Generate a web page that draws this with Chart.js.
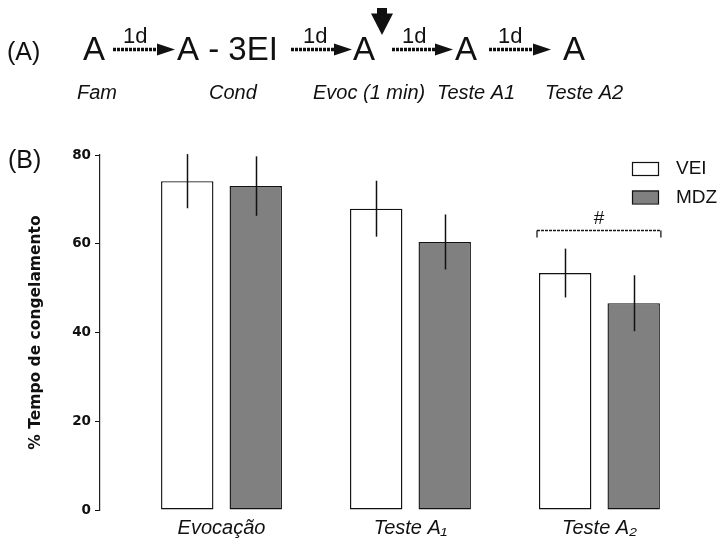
<!DOCTYPE html>
<html>
<head>
<meta charset="utf-8">
<script src="https://cdn.jsdelivr.net/npm/chart.js@4/dist/chart.umd.min.js"></script>
<style>
  html, body { margin: 0; padding: 0; background: #fff; }
  #wrap { position: relative; width: 720px; height: 545px; }
  canvas { display: block; }
</style>
</head>
<body>
<div id="wrap"><canvas id="c" width="720" height="545"></canvas></div>
<script>
// Freezing time (%) per session, mean and SEM for each treatment
const groups = ['Evocação', 'Teste A\u2081', 'Teste A\u2082'];
const veiMean = [74.1, 67.9, 53.4];
const veiSem  = [6.1, 6.3, 5.5];
const mdzMean = [73.0, 60.4, 46.6];
const mdzSem  = [6.7, 6.2, 6.3];
const yTicks  = [0, 20, 40, 60, 80];
const seriesNames = ['VEI', 'MDZ'];

// Significance bracket over the last session
const bracketGroup = 2;
const bracketLevel = 63;
const bracketMark = '#';

// Experimental timeline shown above the graph
const stepLabels = ['Fam', 'Cond', 'Evoc (1 min)', 'Teste A1', 'Teste A2'];

const SANS = '"Liberation Sans", Arial, sans-serif';
const BOLD_AXIS = '"DejaVu Sans", "Liberation Sans", sans-serif';

const toPoints = (arr) => arr.map((v, i) => ({ x: i + 1, y: v }));

// error bars: vertical line through each bar top, +/- SEM
const errorBars = {
  id: 'errorBars',
  afterDatasetsDraw(chart) {
    const { ctx, scales: { y } } = chart;
    ctx.save();
    ctx.strokeStyle = '#111';
    ctx.lineWidth = 1.5;
    chart.data.datasets.forEach((ds, di) => {
      const meta = chart.getDatasetMeta(di);
      meta.data.forEach((bar, i) => {
        const m = ds.data[i].y, s = ds.sem[i];
        const x = Math.round(bar.x) + 0.5;
        ctx.beginPath();
        ctx.moveTo(x, y.getPixelForValue(m + s));
        ctx.lineTo(x, y.getPixelForValue(m - s));
        ctx.stroke();
      });
    });
    ctx.restore();
  }
};

// bracket with '#' spanning both bars of one session
const bracket = {
  id: 'bracket',
  afterDatasetsDraw(chart) {
    const { ctx, scales: { y } } = chart;
    const a = chart.getDatasetMeta(0).data[bracketGroup];
    const b = chart.getDatasetMeta(1).data[bracketGroup];
    const x0 = a.x - a.width / 2 - 2;
    const x1 = b.x + b.width / 2 + 1;
    const yl = Math.round(y.getPixelForValue(bracketLevel)) + 0.5;
    const yd = y.getPixelForValue(bracketLevel - 1.6);
    ctx.save();
    ctx.strokeStyle = '#1a1a1a';
    ctx.lineWidth = 1.3;
    ctx.setLineDash([3, 1]);
    ctx.beginPath();
    ctx.moveTo(x0, yl); ctx.lineTo(x1, yl);
    ctx.stroke();
    ctx.setLineDash([]);
    ctx.beginPath();
    ctx.moveTo(x0, yl); ctx.lineTo(x0, yd);
    ctx.moveTo(x1, yl); ctx.lineTo(x1, yd);
    ctx.stroke();
    ctx.fillStyle = '#111';
    ctx.font = '19px ' + SANS;
    ctx.textAlign = 'center';
    ctx.textBaseline = 'alphabetic';
    ctx.fillText(bracketMark, (x0 + x1) / 2, yl - 7);
    ctx.restore();
  }
};

// legend boxes at the upper right
const boxLegend = {
  id: 'boxLegend',
  afterDraw(chart) {
    const { ctx } = chart;
    ctx.save();
    ctx.font = '19px ' + SANS;
    ctx.textBaseline = 'middle';
    ctx.textAlign = 'left';
    chart.data.datasets.forEach((ds, i) => {
      const top = 162 + i * 28.5;
      ctx.fillStyle = ds.backgroundColor;
      ctx.fillRect(632, top, 27, 13);
      ctx.strokeStyle = '#111';
      ctx.lineWidth = 1.2;
      ctx.strokeRect(632.5, top + 0.5, 26, 13);
      ctx.fillStyle = '#111';
      ctx.fillText(ds.label, 676, top + 7);
    });
    ctx.restore();
  }
};

// panel letters and the timeline schematic
const schematic = {
  id: 'schematic',
  afterDraw(chart) {
    const { ctx } = chart;
    ctx.save();
    ctx.fillStyle = '#111';
    ctx.textBaseline = 'alphabetic';
    ctx.textAlign = 'left';

    ctx.font = '25px ' + SANS;
    ctx.fillText('(A)', 7, 60);
    ctx.fillText('(B)', 8, 168);

    ctx.font = '33px ' + SANS;
    ctx.fillText('A', 83, 60);
    ctx.fillText('A - 3EI', 177, 60);
    ctx.fillText('A', 353, 60);
    ctx.fillText('A', 455, 60);
    ctx.fillText('A', 563, 60);

    const arrows = [[113, 175, 123], [291, 352, 303], [392, 453, 402], [489, 551, 498]];
    arrows.forEach(([s, e, tx]) => {
      ctx.strokeStyle = '#111';
      ctx.lineWidth = 3.5;
      ctx.setLineDash([3, 1]);
      ctx.beginPath();
      ctx.moveTo(s, 49.5);
      ctx.lineTo(e - 17, 49.5);
      ctx.stroke();
      ctx.setLineDash([]);
      ctx.beginPath();
      ctx.moveTo(e - 18, 43.5);
      ctx.lineTo(e, 49.5);
      ctx.lineTo(e - 18, 55.5);
      ctx.closePath();
      ctx.fill();
      ctx.font = '22px ' + SANS;
      ctx.fillText('1d', tx, 43);
    });

    // down arrow marking the retrieval session
    ctx.fillRect(377, 8, 10, 6);
    ctx.beginPath();
    ctx.moveTo(371, 13.5);
    ctx.lineTo(393, 13.5);
    ctx.lineTo(382, 35);
    ctx.closePath();
    ctx.fill();

    ctx.font = 'italic 20px ' + SANS;
    const stepX = [77, 209, 313, 437, 545];
    stepLabels.forEach((t, i) => ctx.fillText(t, stepX[i], 99));
    ctx.restore();
  }
};

new Chart(document.getElementById('c'), {
  type: 'bar',
  data: {
    datasets: [
      {
        label: seriesNames[0],
        data: toPoints(veiMean),
        sem: veiSem,
        backgroundColor: '#ffffff',
        borderColor: '#111111',
        borderWidth: 1.4,
        borderSkipped: false
      },
      {
        label: seriesNames[1],
        data: toPoints(mdzMean),
        sem: mdzSem,
        backgroundColor: '#808080',
        borderColor: '#111111',
        borderWidth: 1.4,
        borderSkipped: false
      }
    ]
  },
  options: {
    responsive: false,
    devicePixelRatio: 1,
    animation: false,
    categoryPercentage: 0.725,
    barPercentage: 0.765,
    layout: { padding: { top: 155, left: 0, right: 0, bottom: 0 } },
    plugins: {
      legend: { display: false },
      title: { display: false },
      tooltip: { enabled: false }
    },
    scales: {
      x: {
        type: 'linear',
        offset: false,
        min: 0.357,
        max: 3.638,
        afterFit: (s) => { s.height = 35; },
        afterBuildTicks: (s) => { s.ticks = groups.map((g, i) => ({ value: i + 1 })); },
        grid: { display: false, drawTicks: false, offset: false },
        border: { display: false },
        ticks: {
          autoSkip: false,
          maxRotation: 0,
          padding: 6,
          color: '#111',
          font: { family: SANS, size: 20, style: 'italic' },
          callback: (v, i) => groups[i]
        }
      },
      y: {
        min: 0,
        max: 80,
        afterFit: (s) => { s.width = 100; },
        afterBuildTicks: (s) => { s.ticks = yTicks.map(v => ({ value: v })); },
        grid: { display: true, drawOnChartArea: false, drawTicks: true, tickLength: 5, color: '#111', lineWidth: 1 },
        border: { display: true, color: '#222', width: 1.2 },
        ticks: {
          padding: 4,
          color: '#111',
          font: { family: BOLD_AXIS, size: 13.5, weight: 'bold' }
        },
        title: {
          display: true,
          text: '% Tempo de congelamento',
          color: '#111',
          font: { family: BOLD_AXIS, size: 15.5, weight: 'bold' },
          padding: { top: 27, bottom: 0 }
        }
      }
    }
  },
  plugins: [errorBars, bracket, boxLegend, schematic]
});
</script>
</body>
</html>
